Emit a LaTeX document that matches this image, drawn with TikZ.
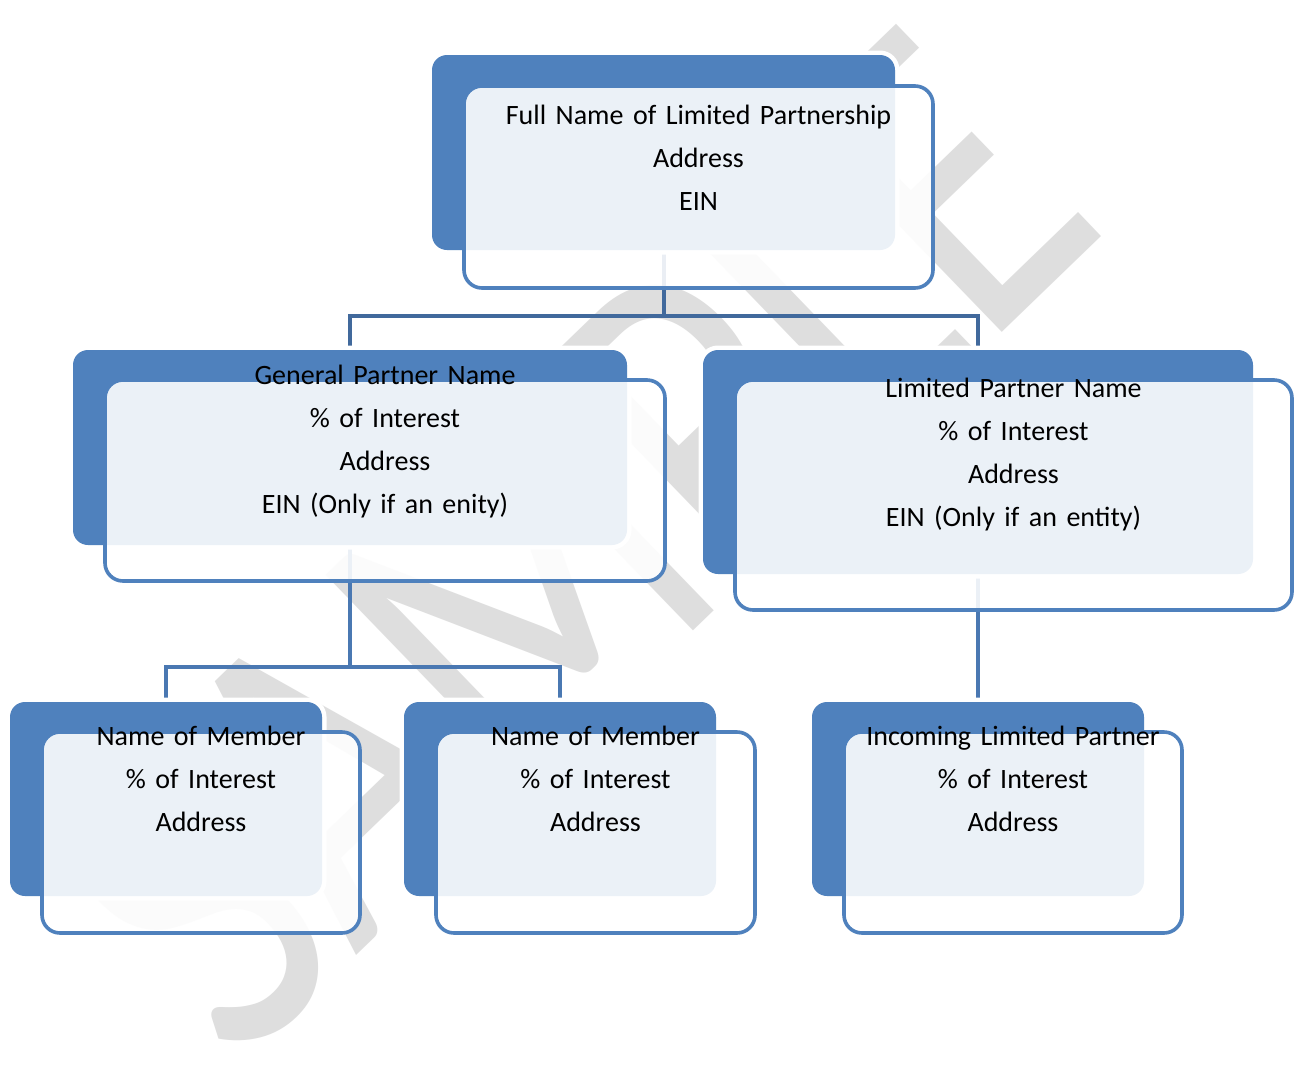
\documentclass[tikz,border=0pt]{standalone}
\usepackage{fontspec}
\setmainfont{Carlito}[WordSpace=1.5]
\newfontfamily\wmfont{Carlito}
\usepackage{graphicx}
\definecolor{accblue}{HTML}{4F81BD}
\definecolor{conndark}{HTML}{41699C}
\definecolor{connblue}{HTML}{4A78B2}
\definecolor{wmgray}{HTML}{DEDEDE}
\pgfdeclarelayer{wmlayer}
\pgfdeclarelayer{connlayer}
\pgfsetlayers{wmlayer,connlayer,main}
\begin{document}
\begin{tikzpicture}[x=1pt,y=-1pt,
  backbox/.style={rectangle, rounded corners=15pt, fill=accblue, inner sep=0pt,
    preaction={draw=white, line width=9pt}},
  frontbox/.style={rectangle, rounded corners=18pt, draw=accblue, line width=3.6pt,
    fill=white, fill opacity=0.89, inner sep=0pt},
  boxtext/.style={align=center, font=\fontsize{28}{43}\selectfont, text=black, inner sep=0pt},
  conn/.style={draw=connblue, line width=4pt},
  conntop/.style={draw=conndark, line width=4pt},
  wmark/.style={text=wmgray, inner sep=0pt, font=\wmfont\fontsize{460}{460}\selectfont},
]
\useasboundingbox (0,0) rectangle (1296,1069);

% watermark
\begin{pgfonlayer}{wmlayer}
\fill[white] (0,0) rectangle (1296,1069);
\node[wmark, rotate=44, anchor=base west] (wm) at (236,1072) {\scalebox{0.8}[1]{SAMPLE}};
\end{pgfonlayer}

% back boxes
\node[backbox, minimum width=463pt, minimum height=195pt] (topB) at (663.5,152.5) {};
\node[backbox, minimum width=554pt, minimum height=195pt] (gpB) at (350,447.5) {};
\node[backbox, minimum width=550pt, minimum height=224pt] (lpB) at (978,462) {};
\node[backbox, minimum width=312pt, minimum height=194pt] (m1B) at (166,799) {};
\node[backbox, minimum width=312pt, minimum height=194pt] (m2B) at (560,799) {};
\node[backbox, minimum width=332pt, minimum height=194pt] (ilpB) at (978,799) {};

% connectors (on a layer behind the boxes)
\coordinate (j1) at (663.5,316);
\coordinate (j2) at (350,667);
\begin{pgfonlayer}{connlayer}
\draw[conntop] (topB.south) -- (j1) -| (gpB.north);
\draw[conntop] (j1) -| (lpB.north);
\draw[conn] (gpB.south) -- (j2) -| (m1B.north);
\draw[conn] (j2) -| (m2B.north);
\draw[conn] (lpB.south) -- (ilpB.north);
\end{pgfonlayer}

% front boxes
\node[frontbox, minimum width=469pt, minimum height=202pt] (topF) at (698.5,187) {};
\node[frontbox, minimum width=560pt, minimum height=201pt] (gpF) at (385,480.5) {};
\node[frontbox, minimum width=557pt, minimum height=230pt] (lpF) at (1013.5,495) {};
\node[frontbox, minimum width=318pt, minimum height=201pt] (m1F) at (201,832.5) {};
\node[frontbox, minimum width=319pt, minimum height=201pt] (m2F) at (595.5,832.5) {};
\node[frontbox, minimum width=338pt, minimum height=201pt] (ilpF) at (1013,832.5) {};

% texts
\node[boxtext] (topT) at (698.5,158) {Full Name of Limited Partnership\\Address\\EIN};
\node[boxtext] (gpT) at (385,442) {General Partner Name\\\% of Interest\\Address\\EIN (Only if an enity)};
\node[boxtext] (lpT) at (1013.5,455) {Limited Partner Name\\\% of Interest\\Address\\EIN (Only if an entity)};
\node[boxtext] (m1T) at (201,779) {Name of Member\\\% of Interest\\Address};
\node[boxtext] (m2T) at (595.5,779) {Name of Member\\\% of Interest\\Address};
\node[boxtext] (ilpT) at (1013,779) {Incoming Limited Partner\\\% of Interest\\Address};
\end{tikzpicture}
\end{document}
